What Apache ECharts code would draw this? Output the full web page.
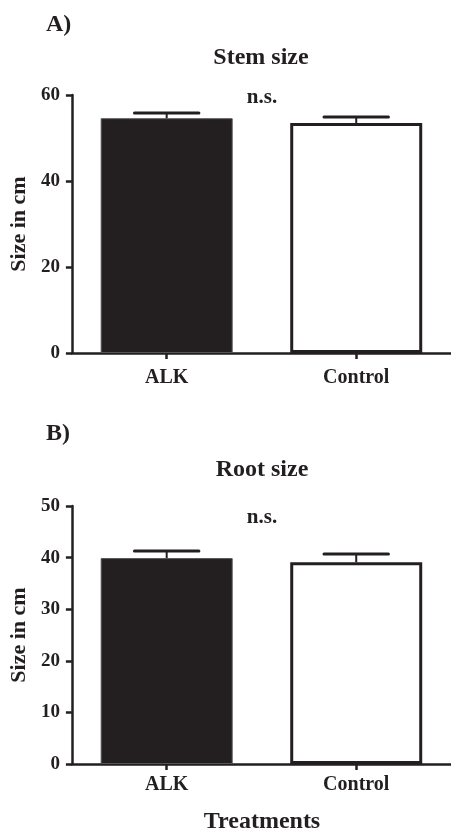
<!DOCTYPE html>
<html>
<head>
<meta charset="utf-8">
<script src="https://cdn.jsdelivr.net/npm/echarts@6/dist/echarts.min.js"></script>
<style>
html,body{margin:0;padding:0;background:#fff;}
#chart{width:451px;height:834px;}
</style>
</head>
<body>
<div id="chart"></div>
<script>
const categories = ['ALK', 'Control'];
const stemMean = [54.6, 53.5];
const stemUpper = [55.8, 54.9];
const rootMean = [39.9, 39.1];
const rootUpper = [41.3, 40.7];
const stemTicks = [0, 20, 40, 60];
const rootTicks = [0, 10, 20, 30, 40, 50];

const INK = '#231f20';
const FONT = 'Liberation Serif';

const chart = echarts.init(document.getElementById('chart'), null, {renderer: 'canvas'});

function errData(mean, upper) {
  return categories.map((c, i) => [i, mean[i], upper[i]]);
}
function renderErr(params, api) {
  const x = api.value(0);
  const p0 = api.coord([x, api.value(1)]);
  const p1 = api.coord([x, api.value(2)]);
  const band = api.size([1, 0])[0];
  const half = band * 0.17;
  return {
    type: 'group',
    children: [
      {type: 'line', shape: {x1: p0[0], y1: p0[1], x2: p1[0], y2: p1[1]}, style: {stroke: INK, lineWidth: 2}},
      {type: 'line', shape: {x1: p1[0] - half, y1: p1[1], x2: p1[0] + half, y2: p1[1]}, style: {stroke: INK, lineWidth: 3, lineCap: 'round'}}
    ]
  };
}
function barData(vals) {
  return vals.map((v, i) => ({
    value: v,
    itemStyle: i === 0
      ? {color: INK, borderColor: '#555', borderWidth: 1}
      : {color: '#ffffff', borderColor: INK, borderWidth: 3}
  }));
}
const axisLabelStyle = {color: INK, fontFamily: FONT, fontWeight: 'bold', fontSize: 19};

function xAxisCfg(gi, margin) {
  return {
    type: 'category', gridIndex: gi, data: categories,
    axisLine: {lineStyle: {color: INK, width: 2.5}},
    axisTick: {show: true, alignWithLabel: true, length: 6, lineStyle: {color: INK, width: 2.5}},
    axisLabel: Object.assign({}, axisLabelStyle, {margin: margin, fontSize: 20})
  };
}
function yAxisCfg(gi, ticks) {
  return {
    type: 'value', gridIndex: gi, min: ticks[0], max: ticks[ticks.length - 1], interval: ticks[1] - ticks[0],
    name: 'Size in cm', nameLocation: 'middle', nameRotate: 90, nameGap: 38,
    nameTextStyle: {color: INK, fontFamily: FONT, fontWeight: 'bold', fontSize: 22},
    axisLine: {show: true, lineStyle: {color: INK, width: 2.5}},
    axisTick: {show: true, length: 6, lineStyle: {color: INK, width: 2.5}},
    axisLabel: Object.assign({}, axisLabelStyle, {margin: 12}),
    splitLine: {show: false}
  };
}
function txt(text, x, y, size, align) {
  return {
    type: 'text', x: x, y: y,
    style: {text: text, fill: INK, font: 'bold ' + size + 'px "' + FONT + '"', align: align || 'center', verticalAlign: 'middle'}
  };
}

chart.setOption({
  animation: false,
  backgroundColor: '#ffffff',
  grid: [
    {left: 70, right: -3, top: 95, height: 258},
    {left: 70, right: -3, top: 506, height: 258}
  ],
  xAxis: [xAxisCfg(0, 15), xAxisCfg(1, 11)],
  yAxis: [yAxisCfg(0, stemTicks), yAxisCfg(1, rootTicks)],
  series: [
    {type: 'bar', xAxisIndex: 0, yAxisIndex: 0, data: barData(stemMean), barWidth: 132, z: 2},
    {type: 'custom', xAxisIndex: 0, yAxisIndex: 0, data: errData(stemMean, stemUpper), renderItem: renderErr, encode: {x: 0, y: [1, 2]}, z: 3},
    {type: 'bar', xAxisIndex: 1, yAxisIndex: 1, data: barData(rootMean), barWidth: 132, z: 2},
    {type: 'custom', xAxisIndex: 1, yAxisIndex: 1, data: errData(rootMean, rootUpper), renderItem: renderErr, encode: {x: 0, y: [1, 2]}, z: 3}
  ],
  graphic: [
    txt('A)', 46, 25, 24, 'left'),
    txt('Stem size', 261, 58, 24),
    txt('n.s.', 262, 98, 21),
    txt('B)', 46, 434, 24, 'left'),
    txt('Root size', 262, 470, 24),
    txt('n.s.', 262, 518, 21),
    txt('Treatments', 262, 822, 24)
  ]
});
</script>
</body>
</html>
